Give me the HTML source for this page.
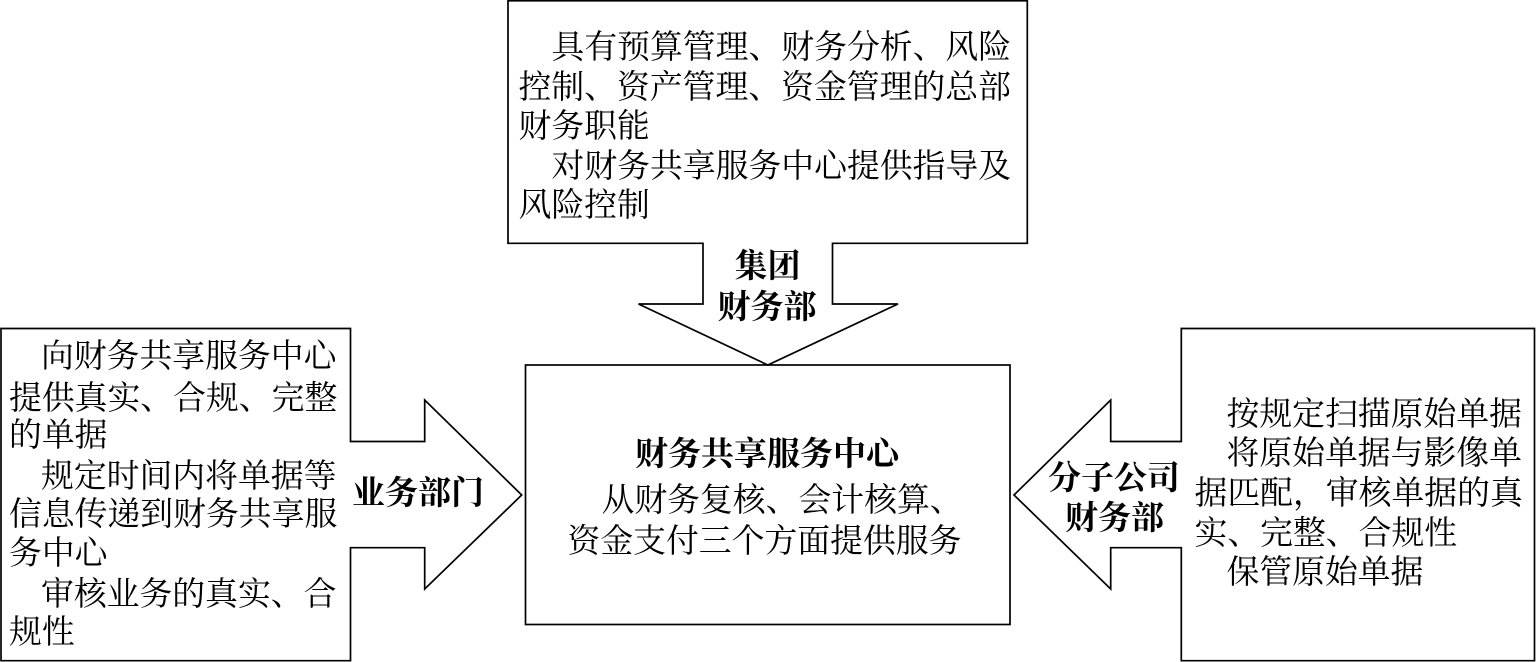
<!DOCTYPE html>
<html>
<head>
<meta charset="utf-8">
<style>
html,body{margin:0;padding:0;background:#fff;width:1536px;height:662px;overflow:hidden}
svg{display:block}
text{font-family:"Liberation Serif","Noto Serif CJK SC",serif;font-size:32.85px;fill:#000}
.b{font-weight:700;font-size:33px}
</style>
</head>
<body>
<svg width="1536" height="662" viewBox="0 0 1536 662" xmlns="http://www.w3.org/2000/svg">
<g fill="none" stroke="#000" stroke-width="1.7">
<rect x="525.5" y="365" width="484.5" height="259.5"/>
<polygon points="508,0.8 1027.3,0.8 1027.3,243.3 832.5,243.3 832.5,304 898,304 767.8,365 638.5,304 703,304 703,243.3 508,243.3"/>
<polygon points="1,328.5 350.5,328.5 350.5,441.5 424.7,441.5 424.7,400 521.7,495 424.7,589 424.7,547.7 350.5,547.7 350.5,660.7 1,660.7"/>
<polygon points="1534.5,328.5 1181.3,328.5 1181.3,441.5 1110.7,441.5 1110.7,400 1014,495 1110.7,589 1110.7,547.7 1181.3,547.7 1181.3,660.7 1534.5,660.7"/>
</g>
<text x="551.5" y="58">具有预算管理、财务分析、风险</text>
<text x="518.5" y="98">控制、资产管理、资金管理的总部</text>
<text x="518.5" y="137">财务职能</text>
<text x="551.5" y="177">对财务共享服务中心提供指导及</text>
<text x="518.5" y="216">风险控制</text>
<text class="b" x="734.5" y="277">集团</text>
<text class="b" x="717.5" y="318">财务部</text>
<text x="41" y="367">向财务共享服务中心</text>
<text x="9" y="409">提供真实、合规、完整</text>
<text x="9" y="446">的单据</text>
<text x="41" y="487">规定时间内将单据等</text>
<text x="9" y="525">信息传递到财务共享服</text>
<text x="9" y="564">务中心</text>
<text x="41" y="605">审核业务的真实、合</text>
<text x="9" y="643">规性</text>
<text class="b" x="352" y="504">业务部门</text>
<text class="b" x="635" y="465">财务共享服务中心</text>
<text x="601.5" y="511">从财务复核、会计核算、</text>
<text x="567.5" y="552">资金支付三个方面提供服务</text>
<text class="b" x="1048" y="489">分子公司</text>
<text class="b" x="1065" y="529">财务部</text>
<text x="1226.5" y="425">按规定扫描原始单据</text>
<text x="1226.5" y="464">将原始单据与影像单</text>
<text x="1194.5" y="504">据匹配，审核单据的真</text>
<text x="1194.5" y="544">实、完整、合规性</text>
<text x="1226.5" y="583">保管原始单据</text>
</svg>
</body>
</html>
